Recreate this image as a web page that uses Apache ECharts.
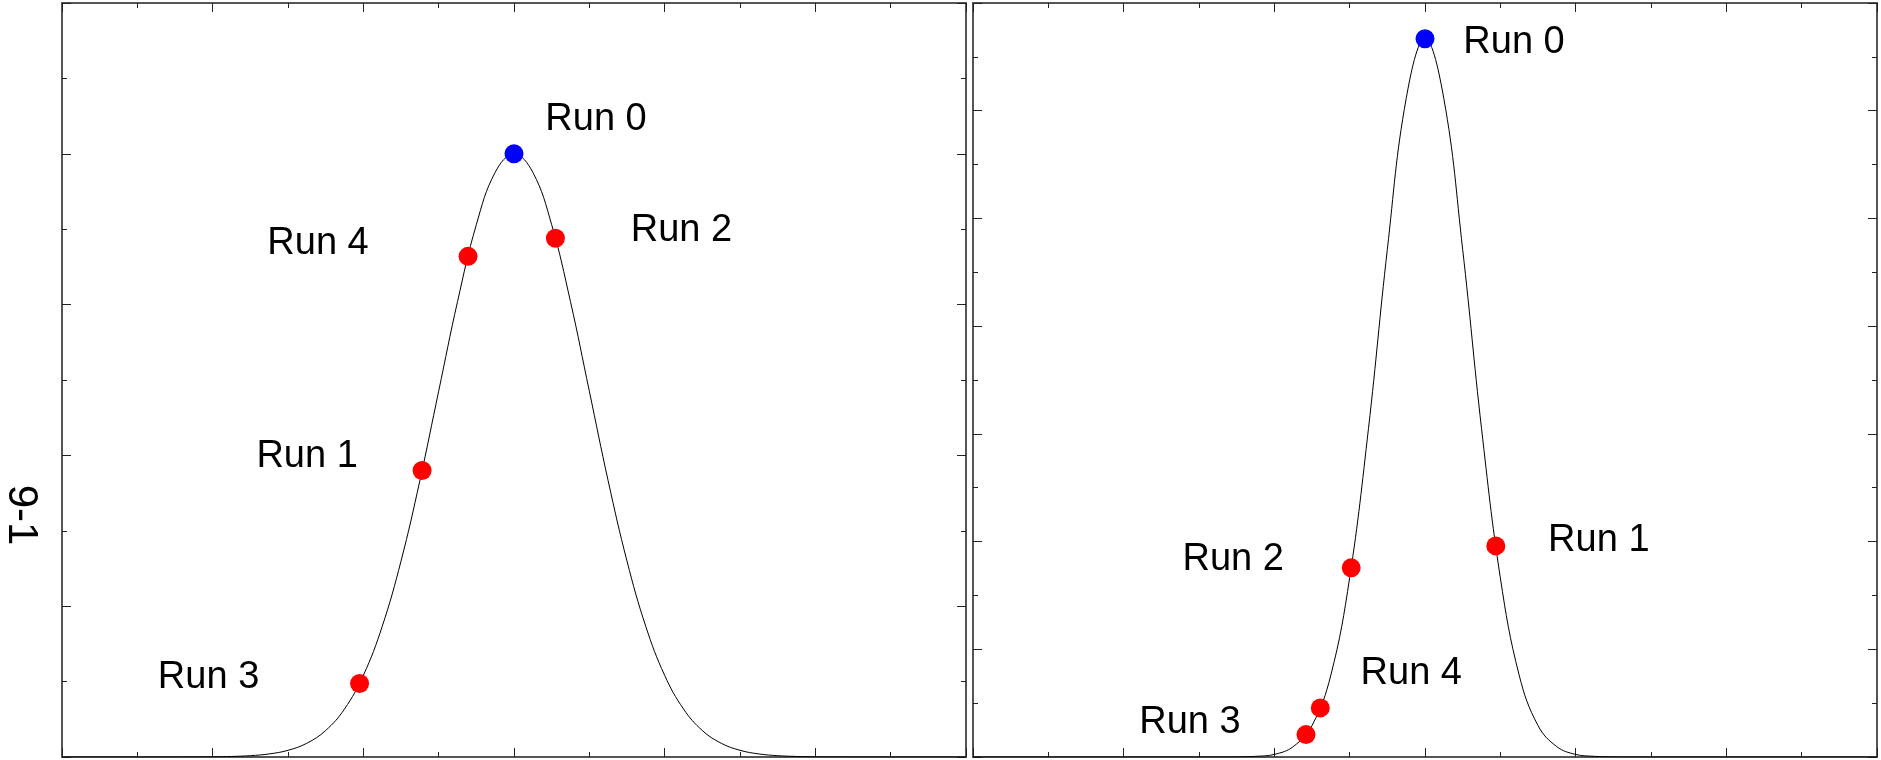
<!DOCTYPE html>
<html>
<head>
<meta charset="utf-8">
<title>Runs</title>
<script src="https://cdn.jsdelivr.net/npm/echarts@6/dist/echarts.min.js"></script>
</head>
<body style="margin:0;background:#fff">
<div id="main" style="width:1881px;height:760px;"></div>
<script>
// sampled curve positions (same x for both panels)
var curveX = [-6, -5, -4, -3.75, -3.5, -3.25, -3, -2.75, -2.5, -2.25, -2, -1.75, -1.5, -1.25, -1, -0.75, -0.5, -0.25,
  0, 0.25, 0.5, 0.75, 1, 1.25, 1.5, 1.75, 2, 2.25, 2.5, 2.75, 3, 3.25, 3.5, 3.75, 4, 5, 6];
// left panel: wide bell
var leftCurveY = [0, 0, 0.0003, 0.0009, 0.0022, 0.0051, 0.0111, 0.0228, 0.0439, 0.0796, 0.1353, 0.2163, 0.3247, 0.4578, 0.6065, 0.7548, 0.8825, 0.9692,
  1.0, 0.9692, 0.8825, 0.7548, 0.6065, 0.4578, 0.3247, 0.2163, 0.1353, 0.0796, 0.0439, 0.0228, 0.0111, 0.0051, 0.0022, 0.0009, 0.0003, 0, 0];
// right panel: narrow bell
var rightCurveY = [0, 0, 0, 0, 0, 0, 0, 0, 0.0003, 0.0015, 0.006, 0.024, 0.073, 0.190, 0.416, 0.763, 1.178, 1.528,
  1.667, 1.528, 1.178, 0.763, 0.416, 0.190, 0.073, 0.024, 0.006, 0.0015, 0.0003, 0, 0, 0, 0, 0, 0, 0, 0];

var runNames = ['Run 0', 'Run 1', 'Run 2', 'Run 3', 'Run 4'];
var leftRunX = [0, -1.22, 0.55, -2.05, -0.61];
var leftRunY = [1.0, 0.475, 0.86, 0.122, 0.83];
var rightRunX = [0, 0.94, -0.98, -1.58, -1.39];
var rightRunY = [1.667, 0.49, 0.439, 0.052, 0.114];

var yAxisTitle = '9-1';

// label offsets in px, relative to the marker
var leftLabelOffset = {'Run 0': [82, -34], 'Run 1': [-115, -14], 'Run 2': [126, -8], 'Run 3': [-151, -6], 'Run 4': [-150, -13]};
var rightLabelOffset = {'Run 0': [89, 4], 'Run 1': [103, -5], 'Run 2': [-118, -8], 'Run 3': [-116, -12], 'Run 4': [91, -34]};

var myChart = echarts.init(document.getElementById('main'));

function axis(grid, pos, min, max, interval) {
  return {
    type: 'value', gridIndex: grid, position: pos,
    min: min, max: max, interval: interval,
    axisLine: {show: true, onZero: false, lineStyle: {color: '#555', width: 2}},
    axisTick: {show: true, inside: true, length: 9, lineStyle: {color: '#222', width: 1}},
    minorTick: {show: true, splitNumber: 2, length: 5, lineStyle: {color: '#222', width: 1}},
    axisLabel: {show: false},
    splitLine: {show: false}
  };
}

function curve(xs, ys) {
  var d = [];
  for (var i = 0; i < xs.length; i++) d.push([xs[i], ys[i]]);
  return d;
}

function runs(xs, ys, offsets) {
  var d = [];
  for (var i = 0; i < xs.length; i++) {
    d.push({
      name: runNames[i],
      value: [xs[i], ys[i]],
      itemStyle: {color: i === 0 ? '#0000ff' : '#ff0000', opacity: 1},
      label: {offset: offsets[runNames[i]]}
    });
  }
  return d;
}

var labelStyle = {
  show: true, position: 'inside', formatter: '{b}',
  fontFamily: 'Liberation Sans, Arial, sans-serif', fontSize: 38, color: '#000',
  textBorderWidth: 0, align: 'center', verticalAlign: 'middle'
};

var option = {
  animation: false,
  grid: [
    {left: 62, right: 915, top: 3, bottom: 3},
    {left: 973, right: 4, top: 3, bottom: 3}
  ],
  xAxis: [
    axis(0, 'bottom', -6, 6, 2), axis(0, 'top', -6, 6, 2),
    axis(1, 'bottom', -6, 6, 2), axis(1, 'top', -6, 6, 2)
  ],
  yAxis: [
    axis(0, 'left', 0, 1.25, 0.25), axis(0, 'right', 0, 1.25, 0.25),
    axis(1, 'left', 0, 1.75, 0.25), axis(1, 'right', 0, 1.75, 0.25)
  ],
  graphic: [{
    type: 'text', x: 21, y: 515, rotation: -Math.PI / 2,
    style: {text: yAxisTitle, fontFamily: 'Liberation Sans, Arial, sans-serif', fontSize: 42, fill: '#000',
      textAlign: 'center', textVerticalAlign: 'middle'}
  }],
  series: [
    {type: 'line', xAxisIndex: 0, yAxisIndex: 0, data: curve(curveX, leftCurveY), smooth: 0.4,
      showSymbol: false, lineStyle: {color: '#000', width: 1}},
    {type: 'line', xAxisIndex: 2, yAxisIndex: 2, data: curve(curveX, rightCurveY), smooth: 0.4,
      showSymbol: false, lineStyle: {color: '#000', width: 1}},
    {type: 'scatter', xAxisIndex: 0, yAxisIndex: 0, symbolSize: 19, data: runs(leftRunX, leftRunY, leftLabelOffset), label: labelStyle, z: 5},
    {type: 'scatter', xAxisIndex: 2, yAxisIndex: 2, symbolSize: 19, data: runs(rightRunX, rightRunY, rightLabelOffset), label: labelStyle, z: 5}
  ]
};

myChart.setOption(option);
</script>
</body>
</html>
